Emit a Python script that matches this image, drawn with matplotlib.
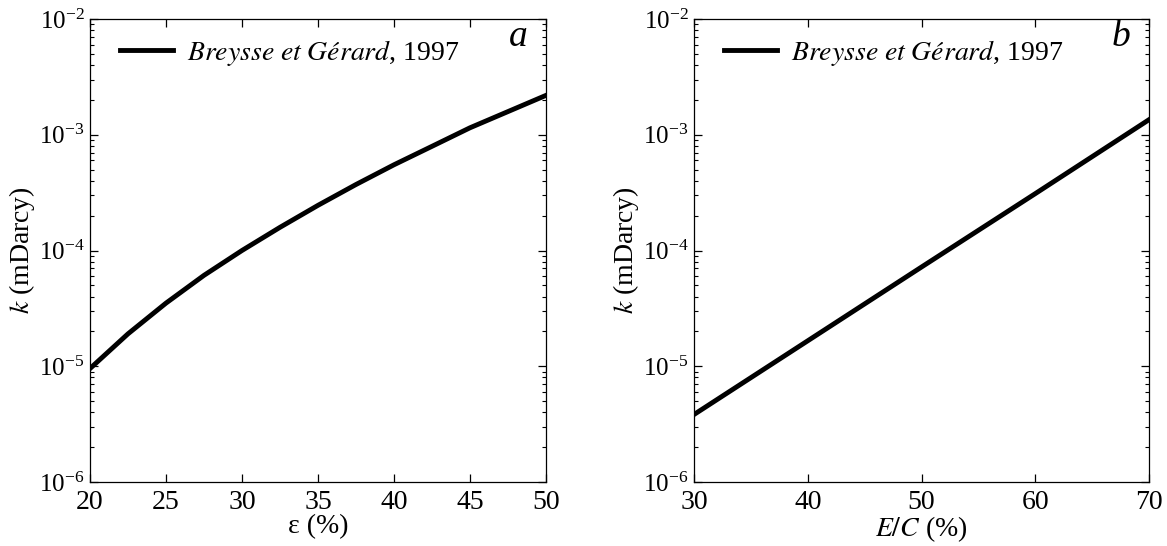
import numpy as np
import matplotlib
matplotlib.use('Agg')
import matplotlib.pyplot as plt
from matplotlib.ticker import LogLocator, NullFormatter

# values (k in mDarcy)
porosity = [20, 22.5, 25, 27.5, 30, 32.5, 35, 37.5, 40, 42.5, 45, 47.5, 50]
k_porosity = [9.55e-6, 1.905e-5, 3.51e-5, 6.1e-5, 1.0e-4, 1.585e-4, 2.455e-4,
              3.715e-4, 5.5e-4, 7.94e-4, 1.148e-3, 1.585e-3, 2.188e-3]

ec_ratio = [30, 40, 50, 60, 70]
k_ec = [3.83e-6, 1.66e-5, 7.2e-5, 3.1e-4, 1.35e-3]

legend_label = r'$\mathit{Breysse\ et\ Gérard}$, 1997'

plt.rcParams['font.family'] = ['Liberation Serif', 'DejaVu Serif']
plt.rcParams['mathtext.fontset'] = 'stix'
plt.rcParams['font.size'] = 20

fig = plt.figure(figsize=(11.67, 5.46), dpi=100)
ax_a = fig.add_axes([0.0771, 0.1172, 0.3907, 0.848])
ax_b = fig.add_axes([0.5947, 0.1172, 0.3899, 0.848])


def style_axis(ax, xlim, xticks, xlabel, letter):
    ax.set_yscale('log')
    ax.set_ylim(1e-6, 1e-2)
    ax.set_xlim(*xlim)
    ax.set_xticks(xticks)
    ax.yaxis.set_major_locator(LogLocator(base=10, numticks=10))
    ax.yaxis.set_minor_locator(LogLocator(base=10, subs=np.arange(2, 10), numticks=10))
    ax.yaxis.set_minor_formatter(NullFormatter())
    ax.tick_params(which='both', direction='in', top=True, right=True)
    ax.tick_params(axis='x', labelsize=20, pad=6)
    ax.tick_params(axis='y', labelsize=18, pad=4)
    ax.tick_params(which='major', length=6, width=0.9)
    ax.tick_params(which='minor', length=3, width=0.8)
    for s in ax.spines.values():
        s.set_linewidth(0.9)
    ax.set_xlabel(xlabel, fontsize=20, labelpad=-1)
    ax.set_ylabel(r'$k$ (mDarcy)', fontsize=20, labelpad=1)
    ax.text(0.96, 1.0, letter, transform=ax.transAxes, ha='right', va='top',
            fontsize=27, fontstyle='italic')
    ax.legend(loc='upper left', frameon=False, fontsize=20, handlelength=1.9,
              borderaxespad=0.2, handletextpad=0.5, bbox_to_anchor=(0.03, 0.995))


ax_a.plot(porosity, k_porosity, color='black', lw=3.5, label=legend_label)
style_axis(ax_a, (20, 50), [20, 25, 30, 35, 40, 45, 50], 'ε (%)', 'a')

ax_b.plot(ec_ratio, k_ec, color='black', lw=3.5, label=legend_label)
style_axis(ax_b, (30, 70), [30, 40, 50, 60, 70], r'$E/C$ (%)', 'b')

fig.savefig('out.png', dpi=100)
